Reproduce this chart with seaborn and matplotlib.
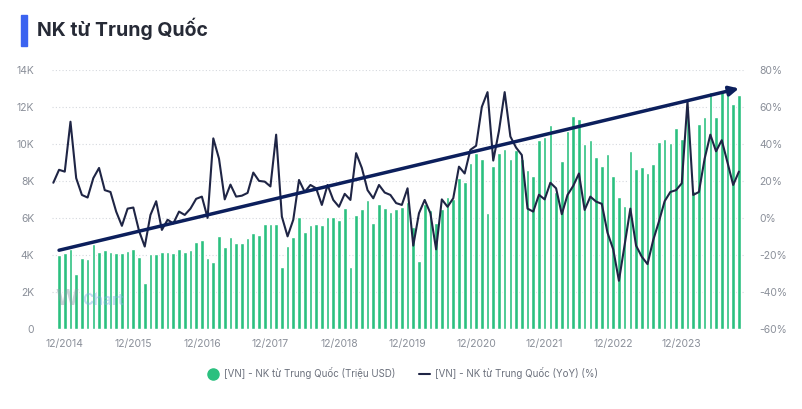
import numpy as np
import pandas as pd
import matplotlib.pyplot as plt
import seaborn as sns
from matplotlib.lines import Line2D

# thang 10/2014 -> 10/2024 (thang dau khong co cot)
thang = pd.date_range('2014-10-01', periods=121, freq='MS').strftime('%m/%Y').tolist()

# NK tu Trung Quoc (Trieu USD), tu 11/2014
nk_trieu_usd = [
    4000, 4100, 4300, 2970, 3840, 3770, 4600, 4140, 4270, 4140, 4090, 4090,
    4200, 4340, 3870, 2500, 4050, 4050, 4180, 4140, 4090, 4300, 4140, 4270,
    4680, 4800, 3840, 3640, 5000, 4410, 4950, 4630, 4630, 4900, 5200, 5080,
    5680, 5680, 5680, 3330, 4490, 4990, 6040, 5260, 5590, 5680, 5590, 6070,
    6070, 5860, 6520, 3330, 6160, 6470, 6970, 5750, 6760, 6520, 6340, 6490,
    6610, 6850, 5530, 3680, 6760, 6430, 5710, 6490, 7120, 7000, 8180, 7930,
    8990, 9530, 9170, 6250, 8810, 9530, 9710, 9170, 9680, 9210, 8600, 8270,
    10200, 10400, 11000, 7390, 9050, 10700, 11500, 11350, 10000, 10200, 9300, 8800,
    9440, 8290, 7150, 6650, 9640, 8650, 8770, 8410, 8900, 10100, 10270, 10070,
    10850, 10270, 11800, 7450, 11100, 11450, 12800, 11480, 12800, 12900, 12160, 12650,
]

# YoY (%), tu 10/2014
yoy_pct = [
    19, 26, 25, 52, 21.5, 12.4, 11, 21.5, 27, 15, 14, 3.4, -4.3,
    5, 5.6, -7, -15.5, 1.6, 9, -6.5, -1, -3, 3.4, 1.6, 5,
    10.3, 11.5, 0, 43, 32, 10, 18, 11.5, 12, 13.5, 24.5, 20,
    19.6, 17, 45, 0.7, -10, -1, 20.5, 14, 17.8, 16, 7, 17.8,
    9.7, 6, 13, 9.7, 35, 27, 15, 10.6, 17.8, 13.7, 12.4, 8,
    7, 16, -15, 2.5, 9.7, 2.5, -17, 10, 6, 10.6, 27.7, 24,
    36.8, 39, 60, 68, 31, 47, 68, 44, 38, 34, 5, 3.4,
    12.5, 10, 19, 16, 2, 12.4, 17.3, 24, 4.3, 11.5, 8.8, 7.6,
    -8, -17, -34, -14.6, 5, -15, -21, -25, -12, -2, 9, 14,
    15, 18.7, 63, 12.4, 14, 32, 45, 36, 42, 30, 17.8, 25,
]

# duong xu huong (mui ten)
trend_start = (1, 4250)
trend_end = (120, 13000)

df = pd.DataFrame({'thang': thang[1:], 'gia_tri': nk_trieu_usd})

sns.set_theme(style="white")
plt.rcParams['font.family'] = ['Inter', 'DejaVu Sans']

fig = plt.figure(figsize=(8.03, 4.09), dpi=100)
ax = fig.add_axes([0.065, 0.196, 0.863, 0.633])

sns.barplot(data=df, x='thang', y='gia_tri', order=thang, color='#2bc07f',
            saturation=1, width=0.64, errorbar=None, ax=ax, zorder=2)

ax2 = ax.twinx()
sns.lineplot(x=np.arange(len(thang)), y=yoy_pct, ax=ax2, color='#1f2545', linewidth=1.5)

ax.set_ylim(0, 14000)
ax2.set_ylim(-60, 80)
ax.set_xlim(-0.2, 121.1)

ax.set_yticks(np.arange(0, 14001, 2000))
ax.set_yticklabels(['0'] + [f'{v}K' for v in range(2, 15, 2)])
ax2.set_yticks(np.arange(-60, 81, 20))
ax2.set_yticklabels([f'{v}%' for v in range(-60, 81, 20)])

pos = [i for i, t in enumerate(thang) if t.startswith('12/')]
ax.set_xticks(pos)
ax.set_xticklabels([thang[i] for i in pos])

ax.grid(axis='y', linestyle=(0, (1, 2)), color='#d5d8de', linewidth=0.8)
ax.grid(axis='x', visible=False)
ax.set_axisbelow(True)
ax.set_xlabel('')
ax.set_ylabel('')
ax2.set_ylabel('')
for a in (ax, ax2):
    for s in a.spines.values():
        s.set_visible(False)
ax.tick_params(axis='y', length=0, pad=13, labelsize=7.5, labelcolor='#8a8f99')
ax.tick_params(axis='x', length=0, pad=7, labelsize=7.5, labelcolor='#8a8f99')
ax2.tick_params(axis='y', length=0, pad=10, labelsize=7.5, labelcolor='#8a8f99')

ax2.annotate('', xy=trend_end, xytext=trend_start, xycoords=ax.transData,
             textcoords=ax.transData,
             arrowprops=dict(arrowstyle='-|>', color='#0c1f5c', lw=2.5,
                             mutation_scale=14, shrinkA=0, shrinkB=0))

# watermark
ax.text(0.3, 1300, 'W', fontsize=16, fontweight='bold', color='#8e9aa8', alpha=0.45)
ax.text(5.0, 1300, 'Chart', fontsize=11, fontweight='bold', color='#7fb0e0', alpha=0.45)

# tieu de
fig.patches.append(plt.Rectangle((21 / 803, 1 - 46 / 409), 6 / 803, 31 / 409,
                                 transform=fig.transFigure, color='#3b63f0'))
fig.text(37 / 803, 1 - 29 / 409, 'NK từ Trung Quốc', fontsize=14, fontweight='bold',
         color='#262a36', va='center')

handles = [
    Line2D([], [], marker='o', linestyle='', color='#2bc07f', markersize=8),
    Line2D([], [], color='#1f2545', linewidth=1.5),
]
fig.legend(handles, ['[VN] - NK từ Trung Quốc (Triệu USD)', '[VN] - NK từ Trung Quốc (YoY) (%)'],
           loc='center', bbox_to_anchor=(0.502, 0.088), ncol=2, frameon=False,
           fontsize=7, labelcolor='#6b707c', handlelength=1.1, columnspacing=2.4,
           handletextpad=0.6)

plt.savefig('out.png', dpi=100)
